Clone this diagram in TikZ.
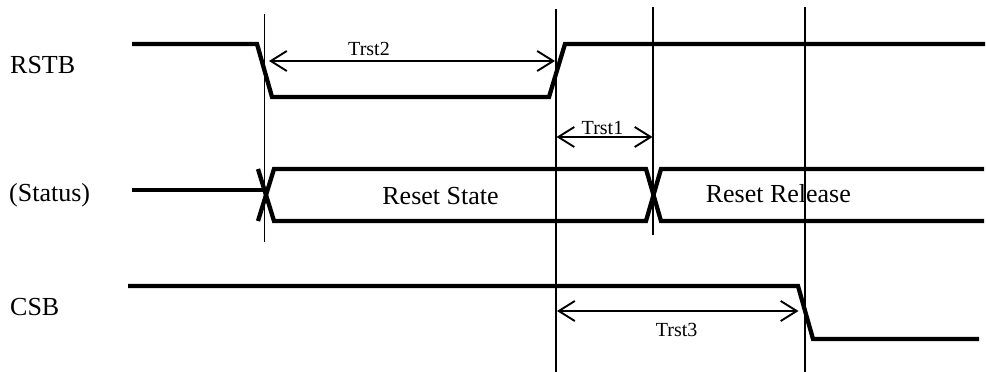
\documentclass[tikz,border=0pt]{standalone}
\usepackage{fontspec}
\setmainfont{Liberation Serif}
\usetikzlibrary{arrows.meta}
\begin{document}
\begin{tikzpicture}[x=1pt,y=-1pt,
  sig/.style={line width=4.3pt, line join=miter},
  guide/.style={line width=1.6pt},
  dim/.style={line width=1.9pt, {Straight Barb[length=16pt,width=20pt]}-{Straight Barb[length=16pt,width=20pt]}},
  lbl/.style={font=\fontsize{26}{30}\selectfont, inner sep=0pt, anchor=base west},
  stxt/.style={font=\fontsize{26}{30}\selectfont, inner sep=0pt, anchor=base},
  dtxt/.style={font=\fontsize{20}{24}\selectfont, inner sep=0pt, anchor=base}]
\useasboundingbox (0,0) rectangle (986,372);
% guide lines
\coordinate (v1t) at (264.5,14);  \coordinate (v1b) at (264.5,242);
\coordinate (v2t) at (555.7,9);   \coordinate (v2b) at (555.7,372);
\coordinate (v3t) at (653,7);     \coordinate (v3b) at (653,235);
\coordinate (v4t) at (805,7);     \coordinate (v4b) at (805,372);
\draw[guide] (v1t) -- (v1b);
\draw[guide] (v2t) -- (v2b);
\draw[guide] (v3t) -- (v3b);
\draw[guide] (v4t) -- (v4b);
% signal labels
\node[lbl] (rstb) at (10,73.3) {RSTB};
\node[lbl] (status) at (9,201) {(Status)};
\node[lbl] (csb) at (10,315.7) {CSB};
% RSTB
\draw[sig] (132,44) -- (257,44) -- (272,97) -- (549,97) -- (565,44) -- (985,44);
% Status
\draw[sig] (132,190) -- (264,190);
\draw[sig] (258,221) -- (274,169) -- (646,169) -- (661,221) -- (984,221);
\draw[sig] (258,169) -- (274,221) -- (646,221) -- (661,169) -- (984,169);
\node[stxt] (rs) at (440.5,204.3) {Reset State};
\node[stxt] (rr) at (778.3,202.7) {Reset Release};
% CSB
\draw[sig] (128,286) -- (798,286) -- (813,339) -- (979,339);
% dimensions
\coordinate (a2l) at (269,61);  \coordinate (a2r) at (555,61);
\coordinate (a1l) at (556.5,137); \coordinate (a1r) at (652.5,137);
\coordinate (a3l) at (557,311); \coordinate (a3r) at (798.5,311);
\draw[dim] (a2l) -- (a2r);
\draw[dim] (a1l) -- (a1r);
\draw[dim] (a3l) -- (a3r);
\node[dtxt] (t2) at (369,55) {Trst2};
\node[dtxt] (t1) at (602.5,134) {Trst1};
\node[dtxt] (t3) at (676.7,336) {Trst3};
\end{tikzpicture}
\end{document}
